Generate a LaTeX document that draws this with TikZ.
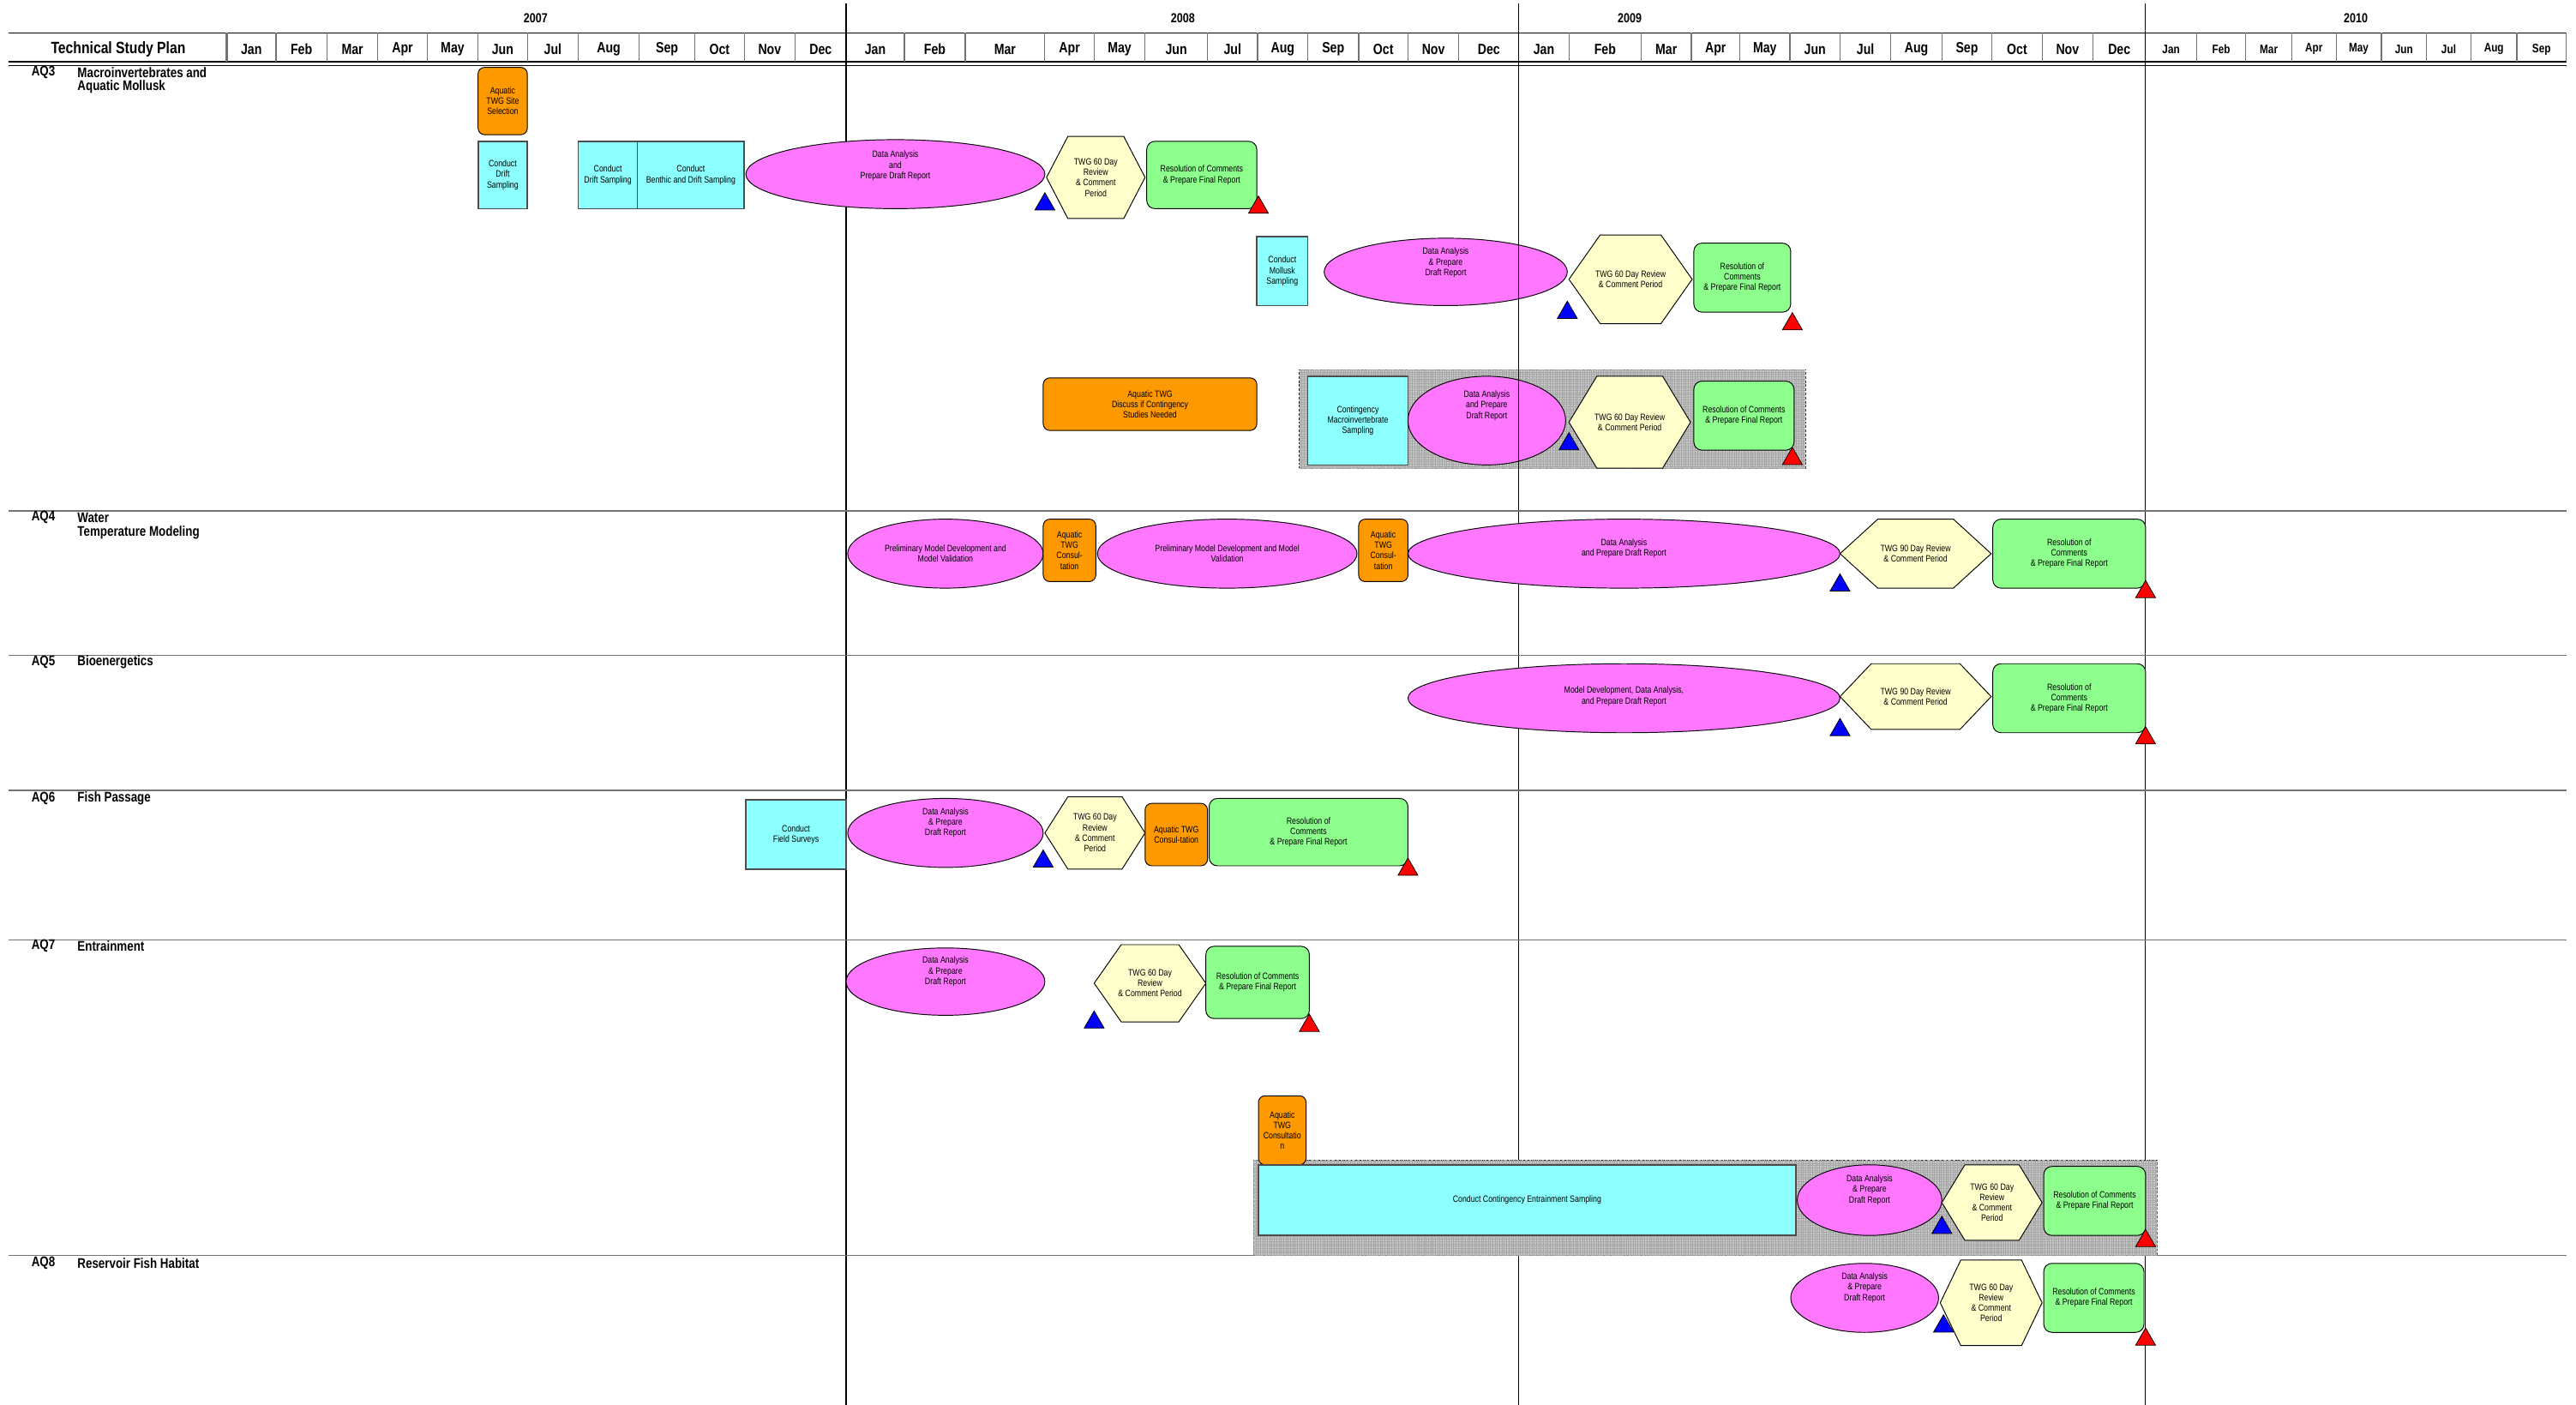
\documentclass[tikz,border=0pt]{standalone}
\usepackage{fontspec}
\setmainfont{Liberation Sans}[FakeStretch=0.82]
\usetikzlibrary{shapes.geometric,patterns.meta}

\definecolor{cOrange}{RGB}{255,153,0}
\definecolor{cCyan}{RGB}{140,255,255}
\definecolor{cMag}{RGB}{255,119,255}
\definecolor{cYel}{RGB}{255,255,204}
\definecolor{cGreen}{RGB}{140,255,140}

\newcommand\boxfont{\fontsize{5.6}{6.4}\selectfont}
% lift a centred block of lines without changing its box
\newcommand\liftup[2]{\raisebox{#1pt}[\height][\depth]{\begin{tabular}{@{}c@{}}#2\end{tabular}}}
% hexagon: name, cx, cy, width, height, point depth, text
\newcommand\drawhexagon[7]{%
  \draw[hexline] ({#2-#4/2},#3) -- ({#2-#4/2+#6},{#3-#5/2}) -- ({#2+#4/2-#6},{#3-#5/2})
     -- ({#2+#4/2},#3) -- ({#2+#4/2-#6},{#3+#5/2}) -- ({#2-#4/2+#6},{#3+#5/2}) -- cycle;
  \node[hextext] (#1) at (#2,#3) {#7};}

\tikzset{
  sz/.style 2 args={minimum width=#1pt, minimum height=#2pt},
  base/.style={draw=black, line width=0.5pt, inner sep=1pt, align=center, font=\boxfont},
  orangebox/.style={base, fill=cOrange, rounded corners=4pt},
  cyanbox/.style={base, fill=cCyan, draw=black!70, line width=0.9pt},
  ellbox/.style={base, ellipse, fill=cMag},
  greenbox/.style={base, fill=cGreen, rounded corners=5pt},
  hexline/.style={draw=black, line width=0.5pt, fill=cYel},
  hextext/.style={inner sep=0pt, align=center, font=\boxfont},
  contbox/.style={draw=black!85, line width=0.5pt, dash pattern=on 1.5pt off 1pt, fill=black!22,
     postaction={pattern={Lines[angle=0,distance=1.4pt,line width=0.25pt]}, pattern color=black!35},
     postaction={pattern={Lines[angle=90,distance=1.4pt,line width=0.25pt]}, pattern color=black!35}},
  tri/.style={regular polygon, regular polygon sides=3, minimum size=14pt, inner sep=0pt,
     draw=black, line width=0.4pt, anchor=south},
  bluetri/.style={tri, fill=blue},
  redtri/.style={tri, fill=red},
  monthlab/.style={font=\bfseries\fontsize{9}{10}\selectfont, inner sep=0pt},
  smallmonth/.style={font=\bfseries\fontsize{7.5}{9}\selectfont, inner sep=0pt},
  yearlab/.style={font=\bfseries\fontsize{8}{9}\selectfont, inner sep=0pt},
  rowlab/.style={font=\bfseries\fontsize{8.5}{10}\selectfont, inner sep=0pt, anchor=west},
  yearline/.style={black, line width=0.6pt},
  rowsep/.style={black!55, line width=0.7pt},
  hsep/.style={black!55, line width=0.6pt}
}

\begin{document}
\begin{tikzpicture}[x=1pt,y=-1pt]
\useasboundingbox[fill=white] (0,0) rectangle (1568,855);

% ---------- header ----------
\draw[black, line width=0.8pt] (5,20) -- (1562,20);
\draw[black, line width=0.7pt] (5,37.6) -- (1562,37.6);
\draw[black, line width=0.7pt] (5,39.8) -- (1562,39.8);
\node[font=\bfseries\fontsize{10}{12}\selectfont, inner sep=0pt] (title) at (72,30) {Technical Study Plan};
\draw[black!55, line width=1.3pt] (138,20) -- (138,37.6);

\foreach \a/\b/\m [count=\i] in {138/168/Jan,168/199/Feb,199/230/Mar,230/260/Apr,260/291/May,291/321/Jun,
  321/352/Jul,352/389/Aug,389/423/Sep,423/453/Oct,453/484/Nov,484/515/Dec,
  515/550.5/Jan,550.5/587.5/Feb,587.5/636/Mar,636/666/Apr,666/697/May,697/735/Jun,
  735/765.5/Jul,765.5/796/Aug,796/827/Sep,827/857/Oct,857/888/Nov,888/924.5/Dec,
  924.5/955/Jan,955/999/Feb,999/1029.5/Mar,1029.5/1059/Apr,1059/1089.5/May,1089.5/1120/Jun,
  1120/1151/Jul,1151/1182/Aug,1182/1212.5/Sep,1212.5/1243/Oct,1243/1274/Nov,1274/1306/Dec}{
  \node[monthlab] (m\i) at ({(\a+\b)/2},30) {\m};
  \draw[hsep] (\b,20) -- (\b,37.6);
}
\foreach \a/\b/\m [count=\i] in {1306/1337/Jan,1337/1367/Feb,1367/1395/Mar,1395/1422/Apr,
  1422/1449.5/May,1449.5/1477/Jun,1477/1504/Jul,1504/1532/Aug,1532/1562/Sep}{
  \node[smallmonth] (n\i) at ({(\a+\b)/2},30) {\m};
  \draw[hsep] (\b,20) -- (\b,37.6);
}

\node[yearlab] (y2007) at (326,11) {2007};
\node[yearlab] (y2008) at (720,11) {2008};
\node[yearlab] (y2009) at (992,11) {2009};
\node[yearlab] (y2010) at (1434,11) {2010};

\foreach \x in {515,924.5,1306} \draw[yearline] (\x,2) -- (\x,855);

% ---------- row separators and labels ----------
\foreach \y in {311,399,481,572,764} \draw[rowsep] (5,\y) -- (1562,\y);

\node[rowlab] (aq3) at (19,44) {AQ3};
\node[rowlab] (aq3a) at (47,44) {Macroinvertebrates and};
\node[rowlab] (aq3b) at (47,53) {Aquatic Mollusk};
\node[rowlab] (aq4) at (19,315) {AQ4};
\node[rowlab] (aq4a) at (47,315) {Water};
\node[rowlab] (aq4b) at (47,324) {Temperature Modeling};
\node[rowlab] (aq5) at (19,403) {AQ5};
\node[rowlab] (aq5a) at (47,403) {Bioenergetics};
\node[rowlab] (aq6) at (19,486) {AQ6};
\node[rowlab] (aq6a) at (47,486) {Fish Passage};
\node[rowlab] (aq7) at (19,576) {AQ7};
\node[rowlab] (aq7a) at (47,576) {Entrainment};
\node[rowlab] (aq8) at (19,769) {AQ8};
\node[rowlab] (aq8a) at (47,769) {Reservoir Fish Habitat};

% ---------- AQ3 ----------
\node[orangebox, sz={30}{41}] (o1) at (306,61.5) {Aquatic\\TWG Site\\Selection};
\node[cyanbox, sz={30}{41}] (c1) at (306,106.5) {Conduct\\Drift\\Sampling};
\node[cyanbox, sz={36}{41}] (c2) at (370,106.5) {Conduct\\Drift Sampling};
\node[cyanbox, sz={65}{41}] (c3) at (420.5,106.5) {Conduct\\Benthic and Drift Sampling};
\node[ellbox, sz={182}{42}] (e1) at (545,106) {\liftup{5}{Data Analysis\\and\\Prepare Draft Report}};
\drawhexagon{h1}{667}{108}{60}{50}{13}{TWG 60 Day\\Review\\\& Comment\\Period}
\node[greenbox, sz={67}{41}] (g1) at (731.5,106.5) {Resolution of Comments\\\& Prepare Final Report};
\node[bluetri] (tb1) at (636,128) {};
\node[redtri] (tr1) at (766,130) {};

\node[cyanbox, sz={31}{42}] (c4) at (780.5,165) {Conduct\\Mollusk\\Sampling};
\node[ellbox, sz={148}{41}] (e2) at (880,165.5) {\liftup{5.5}{Data Analysis\\\& Prepare\\Draft Report}};
\drawhexagon{h2}{992.5}{170}{75}{54}{19}{TWG 60 Day Review\\\& Comment Period}
\node[greenbox, sz={59}{42}] (g2) at (1060.5,169) {Resolution of\\Comments\\\& Prepare Final Report};
\node[bluetri] (tb2) at (954,194) {};
\node[redtri] (tr2) at (1091,201) {};

\node[orangebox, sz={130}{32}] (o2) at (700,246) {Aquatic TWG\\Discuss if Contingency\\Studies Needed};
\node[contbox, sz={308}{60}] (r1) at (945,255) {};
\node[cyanbox, sz={61}{54}] (c5) at (826.5,256) {Contingency\\Macroinvertebrate\\Sampling};
\node[ellbox, sz={96}{54}] (e3) at (905,256) {\liftup{9}{Data Analysis\\and Prepare\\Draft Report}};
\drawhexagon{h3}{992}{257}{74}{56}{17}{TWG 60 Day Review\\\& Comment Period}
\node[greenbox, sz={61}{42}] (g3) at (1061.5,253) {Resolution of Comments\\\& Prepare Final Report};
\node[bluetri] (tb3) at (955,274) {};
\node[redtri] (tr3) at (1091,283) {};

% year line runs over the AQ3 contingency block
\draw[yearline] (924.5,136) -- (924.5,300);

% ---------- AQ4 ----------
\node[ellbox, sz={119}{42}] (e4) at (575.5,337) {Preliminary Model Development and\\Model Validation};
\node[orangebox, sz={32}{38}] (o3) at (651,335) {Aquatic\\TWG\\Consul-\\tation};
\node[ellbox, sz={158}{42}] (e5) at (747,337) {Preliminary Model Development and Model\\Validation};
\node[orangebox, sz={30}{38}] (o4) at (842,335) {Aquatic\\TWG\\Consul-\\tation};
\node[ellbox, sz={263}{42}] (e6) at (988.5,337) {\liftup{3}{Data Analysis\\and Prepare Draft Report}};
\drawhexagon{h4}{1166}{337}{92}{42}{23}{TWG 90 Day Review\\\& Comment Period}
\node[greenbox, sz={93}{42}] (g4) at (1259.5,337) {Resolution of\\Comments\\\& Prepare Final Report};
\node[bluetri] (tb4) at (1120,360) {};
\node[redtri] (tr4) at (1306,364) {};

% ---------- AQ5 ----------
\node[ellbox, sz={263}{42}] (e7) at (988.5,425) {\liftup{1}{Model Development, Data Analysis,\\and Prepare Draft Report}};
\drawhexagon{h5}{1166}{424}{92}{40}{19}{TWG 90 Day Review\\\& Comment Period}
\node[greenbox, sz={93}{42}] (g5) at (1259.5,425) {Resolution of\\Comments\\\& Prepare Final Report};
\node[bluetri] (tb5) at (1120,448) {};
\node[redtri] (tr5) at (1306,453) {};

% ---------- AQ6 ----------
\node[cyanbox, sz={61}{42}] (c6) at (484.5,508) {Conduct\\Field Surveys};
\node[ellbox, sz={119}{42}] (e8) at (575.5,507) {\liftup{6}{Data Analysis\\\& Prepare\\Draft Report}};
\drawhexagon{h6}{666.5}{507}{61}{44}{14}{TWG 60 Day\\Review\\\& Comment\\Period}
\node[orangebox, sz={38}{38}] (o5) at (716,508) {Aquatic TWG\\Consul-tation};
\node[greenbox, sz={121}{41}] (g6) at (796.5,506.5) {Resolution of\\Comments\\\& Prepare Final Report};
\node[bluetri] (tb6) at (635,528) {};
\node[redtri] (tr6) at (857,533) {};

% ---------- AQ7 ----------
\node[ellbox, sz={121}{41}] (e9) at (575.5,597.5) {\liftup{6}{Data Analysis\\\& Prepare\\Draft Report}};
\drawhexagon{h7}{700}{598.5}{68}{47}{16.5}{TWG 60 Day\\Review\\\& Comment Period}
\node[greenbox, sz={63}{44}] (g7) at (765.5,598) {Resolution of Comments\\\& Prepare Final Report};
\node[bluetri] (tb7) at (666,626) {};
\node[redtri] (tr7) at (797,628) {};

\node[contbox, sz={550}{58}] (r2) at (1038,735) {};
\node[orangebox, sz={29}{42}] (o6) at (780.5,688) {Aquatic\\TWG\\Consultatio\\n};
\node[cyanbox, sz={327}{43}] (c7) at (929.5,730.5) {Conduct Contingency Entrainment Sampling};
\node[ellbox, sz={88}{43}] (e10) at (1138,730.5) {\liftup{6}{Data Analysis\\\& Prepare\\Draft Report}};
\drawhexagon{h8}{1212.5}{732}{61}{46}{14}{TWG 60 Day\\Review\\\& Comment\\Period}
\node[greenbox, sz={62}{42}] (g8) at (1275,731) {Resolution of Comments\\\& Prepare Final Report};
\node[bluetri] (tb8) at (1182,751) {};
\node[redtri] (tr8) at (1306,759) {};

% ---------- AQ8 ----------
\node[ellbox, sz={90}{42}] (e11) at (1135,790) {\liftup{6}{Data Analysis\\\& Prepare\\Draft Report}};
\drawhexagon{h9}{1212}{793}{62}{52}{12.5}{TWG 60 Day\\Review\\\& Comment\\Period}
\node[greenbox, sz={61}{42}] (g9) at (1274.5,790) {Resolution of Comments\\\& Prepare Final Report};
\node[bluetri] (tb9) at (1183,811) {};
\node[redtri] (tr9) at (1306,819) {};
\end{tikzpicture}
\end{document}
